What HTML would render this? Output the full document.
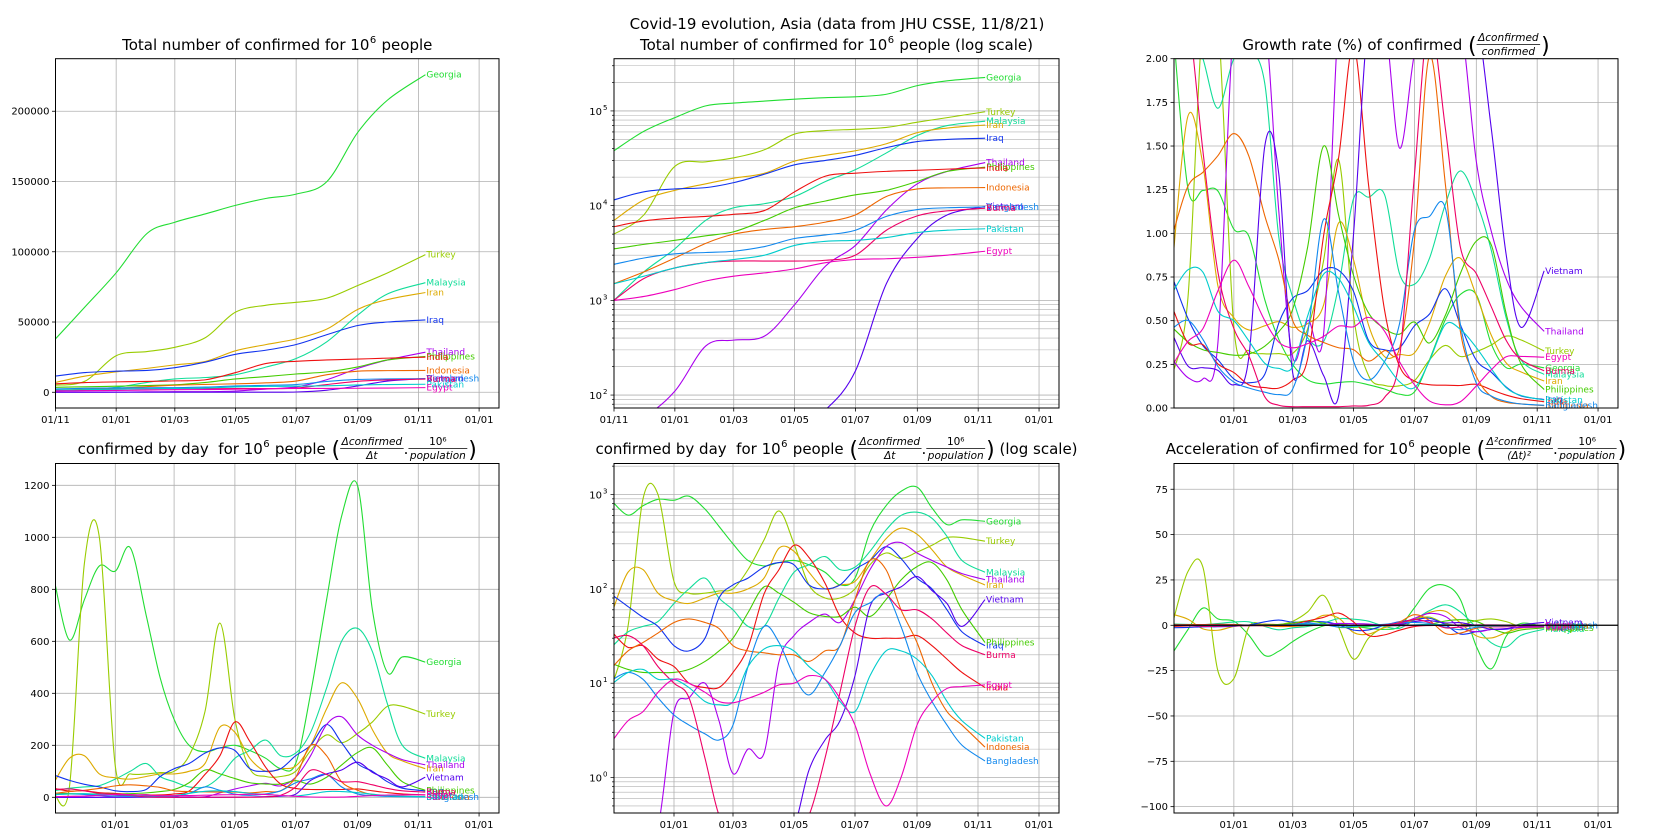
<!DOCTYPE html>
<html><head><meta charset="utf-8">
<style>
html,body{margin:0;padding:0;background:#fff;width:1675px;height:840px;overflow:hidden;}
svg{display:block;font-family:"DejaVu Sans","Liberation Sans",sans-serif;overflow:hidden;}
text{white-space:pre;}
</style></head>
<body>
<svg id="chart" width="1675" height="840" viewBox="0 0 1675 840" xmlns="http://www.w3.org/2000/svg">
<rect x="0" y="0" width="1675" height="840" fill="#fff"/>
<text x="837" y="29" font-size="15" text-anchor="middle" fill="#000">Covid-19 evolution, Asia (data from JHU CSSE, 11/8/21)</text>
</svg>
<script>
// ---------- data ----------
const countries = ["Georgia","Turkey","Malaysia","Iran","Iraq","Thailand","Philippines","India","Indonesia","Vietnam","Bangladesh","Burma","Pakistan","Egypt"];
const seriesColors = ["#22dd33","#99cc00","#11dd99","#ddaa00","#1133ee","#aa00ee","#44cc00","#ee1111","#ee6600","#5500ee","#1188ee","#ee0066","#00cccc","#ee00bb"];
const cumDays = [0,30,61,92,120,151,181,212,242,273,304,334,372];
const dayDays = [0,15,30,45,61,76,92,106,120,135,151,166,181,196,212,227,242,257,273,288,304,319,334,349,372];
const xTickDays = [0,61,120,181,242,304,365,426];
const xTickLabels = ["01/11","01/01","01/03","01/05","01/07","01/09","01/11","01/01"];

const cumGeorgia = [38000,61000,85000,113000,121000,127000,133000,138000,141000,150000,185000,208000,226000];
const cumTurkey = [5000,8000,26000,29000,32000,39000,57000,62000,64000,67000,76000,85000,98000];
const cumMalaysia = [1000,2000,3500,7000,9500,10500,12500,18000,24000,36000,55000,70000,78000];
const cumIran = [7000,11500,14500,17000,19500,22000,29500,34000,38000,45000,59000,66000,71000];
const cumIraq = [11500,14000,15000,15500,17500,21500,27000,30000,34000,41000,47500,50000,51500];
const cumThailand = [55,60,110,330,380,420,900,2300,3800,9000,17000,23000,28500];
const cumPhilippines = [3500,3900,4300,4800,5300,7000,9500,11200,13000,14500,18000,23000,25500];
const cumIndia = [6000,6900,7400,7700,8100,8900,14000,20500,22000,23000,23600,24300,25000];
const cumIndonesia = [1500,2000,2800,4000,5000,5600,6000,6700,8000,12500,15000,15400,15500];
const cumVietnam = [12,13,15,20,25,27,30,70,180,1500,4500,8000,9800];
const cumBangladesh = [2400,2800,3100,3200,3300,3700,4500,4900,5500,7700,9100,9500,9700];
const cumBurma = [1000,1700,2200,2500,2600,2600,2600,2650,3000,5500,7800,8800,9400];
const cumPakistan = [1500,1800,2200,2500,2700,3000,3800,4200,4300,4600,5200,5500,5700];
const cumEgypt = [1000,1100,1300,1600,1800,1950,2150,2500,2700,2750,2850,3000,3300];

const dailyGeorgia = [830,605,760,890,870,960,700,460,300,200,175,190,200,180,150,110,130,400,760,1080,1200,720,480,540,520];
const dailyTurkey = [10,40,900,1000,120,90,90,95,100,160,330,670,300,110,80,80,100,180,240,210,245,290,350,350,320];
const dailyMalaysia = [25,35,40,45,70,100,130,80,60,40,40,80,150,180,220,160,170,250,420,600,650,560,360,200,150];
const dailyIran = [60,150,160,90,75,70,80,90,90,100,130,270,250,150,100,110,120,200,340,440,380,260,170,140,110];
const dailyIraq = [85,65,50,40,25,22,30,80,110,130,170,190,180,110,100,110,160,200,280,210,130,100,60,35,25];
const dailyThailand = [0.15,0.1,0.1,0.3,5,7,10,4,1.1,2,1.8,17,32,44,54,44,77,160,280,310,240,200,170,145,125];
const dailyPhilippines = [16,14,13,13,13,14,17,22,30,56,105,90,72,56,51,51,64,51,77,124,172,190,124,60,27];
const dailyIndia = [34,24,25,18,15,10,9,9,13,24,88,160,290,215,115,51,34,30,30,30,32,25,18,13,9];
const dailyIndonesia = [15,22,27,34,44,48,44,38,25,22,21,20,20,17,22,25,77,200,160,60,27,10,5,3.6,2.1];
const dailyVietnam = [0.05,0.03,0.03,0.03,0.02,0.05,0.3,0.3,0.05,0.1,0.05,0.02,0.3,1.2,2.5,4,12,65,90,105,135,96,70,40,77];
const dailyBangladesh = [11,13,11,7,4.6,3.6,2.9,2.5,3.6,15,40,27,12,7.5,13,25,56,71,88,40,13,6.4,3.6,2.2,1.5];
const dailyBurma = [30,32,25,15,10,7,1.6,0.4,0.2,0.2,0.2,0.2,0.3,0.4,1.6,8,40,104,88,60,60,48,34,25,20];
const dailyPakistan = [10,13,14,11,11,9,6.4,5.9,6.4,15,23,25,22,15,11,6.4,5,12,22,22,18,12,6.4,4,2.6];
const dailyEgypt = [2.5,4,5,8,11,10,8,6.4,6.2,6.9,8,9.6,10,12,11,6.9,3.6,1.1,0.5,1,3.6,6.4,8.8,9.2,9.6];

const cumSeries = [cumGeorgia,cumTurkey,cumMalaysia,cumIran,cumIraq,cumThailand,cumPhilippines,cumIndia,cumIndonesia,cumVietnam,cumBangladesh,cumBurma,cumPakistan,cumEgypt];
const dailySeries = [dailyGeorgia,dailyTurkey,dailyMalaysia,dailyIran,dailyIraq,dailyThailand,dailyPhilippines,dailyIndia,dailyIndonesia,dailyVietnam,dailyBangladesh,dailyBurma,dailyPakistan,dailyEgypt];

const linTicks1 = [0,50000,100000,150000,200000];
const growthTicks = [0,0.25,0.5,0.75,1,1.25,1.5,1.75,2];
const linTicks4 = [0,200,400,600,800,1000,1200];
const accTicks = [-100,-75,-50,-25,0,25,50,75];

// ---------- helpers ----------
const NS = "http://www.w3.org/2000/svg";
const svg = document.getElementById("chart");
function el(tag, attrs, parent){
  const e = document.createElementNS(NS, tag);
  for (const k in attrs) e.setAttribute(k, attrs[k]);
  (parent || svg).appendChild(e);
  return e;
}
let clipId = 0;
function makePanel(name, box, xmin, xmax, ymin, ymax, log, showFirstTick){
  const g = el("g", {});
  
  
  const f = v => log ? Math.log10(v) : v;
  const lo = f(ymin), hi = f(ymax);
  const sx = d => box.x0 + (d - xmin) / (xmax - xmin) * (box.x1 - box.x0);
  const sy = v => box.y1 - (f(v) - lo) / (hi - lo) * (box.y1 - box.y0);
  const id = "clip" + (clipId++);
  const cp = el("clipPath", {id: id}, g);
  el("rect", {x: box.x0, y: box.y0, width: box.x1 - box.x0, height: box.y1 - box.y0}, cp);
  const grid = el("g", {}, g);
  
  
  xTickDays.forEach((d, i) => {
    if (i === 0 && !showFirstTick) return;
    const x = sx(d);
    if (x < box.x0 - 0.5 || x > box.x1 + 0.5) return;
    el("line", {x1: x, x2: x, y1: box.y0, y2: box.y1, stroke: "#b0b0b0", "stroke-width": 0.8}, grid);
    el("line", {x1: x, x2: x, y1: box.y1, y2: box.y1 + 3.5, stroke: "#000", "stroke-width": 0.8}, g);
    const t = el("text", {x: x, y: box.y1 + 15, "font-size": 10, "text-anchor": "middle", fill: "#000"}, g);
    t.textContent = xTickLabels[i];
    
    
  });
  return {g, sx, sy, box, id, grid};
}
function yTicksLinear(p, ticks, fmt){
  ticks.forEach(v => {
    const y = p.sy(v);
    el("line", {x1: p.box.x0, x2: p.box.x1, y1: y, y2: y, stroke: "#b0b0b0", "stroke-width": 0.8}, p.grid);
    el("line", {x1: p.box.x0 - 3.5, x2: p.box.x0, y1: y, y2: y, stroke: "#000", "stroke-width": 0.8}, p.g);
    const t = el("text", {x: p.box.x0 - 6, y: y + 3.5, "font-size": 10, "text-anchor": "end", fill: "#000"}, p.g);
    t.textContent = fmt(v);
    
    
  });
}
function yTicksLog(p, e0, e1, ymin, ymax){
  for (let e = e0; e <= e1; e++){
    for (let m = 1; m <= 9; m++){
      const v = m * Math.pow(10, e);
      if (v < ymin || v > ymax) continue;
      const y = p.sy(v);
      el("line", {x1: p.box.x0, x2: p.box.x1, y1: y, y2: y, stroke: "#b0b0b0", "stroke-width": m === 1 ? 0.8 : 0.6}, p.grid);
      el("line", {x1: p.box.x0 - (m === 1 ? 3.5 : 2), x2: p.box.x0, y1: y, y2: y, stroke: "#000", "stroke-width": 0.7}, p.g);
      if (m === 1){
        const t = el("text", {x: p.box.x0 - 12, y: y + 4, "font-size": 10, "text-anchor": "end", fill: "#000"}, p.g);
        t.textContent = "10";
        
        
        const s = el("text", {x: p.box.x0 - 11, y: y - 1, "font-size": 7, "text-anchor": "start", fill: "#000"}, p.g);
        s.textContent = String(e);
      }
    }
  }
}
function frame(p){
  el("rect", {x: p.box.x0, y: p.box.y0, width: p.box.x1 - p.box.x0, height: p.box.y1 - p.box.y0, fill: "none", stroke: "#000", "stroke-width": 1}, p.g);
}
function smoothPath(pts, lo, hi){
  if (pts.length < 2) return "";
  const c = v => Math.max(lo, Math.min(hi, v));
  let d = "M" + pts[0][0].toFixed(2) + "," + pts[0][1].toFixed(2);
  for (let i = 0; i < pts.length - 1; i++){
    const p0 = pts[Math.max(0, i - 1)], p1 = pts[i], p2 = pts[i + 1], p3 = pts[Math.min(pts.length - 1, i + 2)];
    const c1x = p1[0] + (p2[0] - p0[0]) / 6, c1y = c(p1[1] + (p2[1] - p0[1]) / 6);
    const c2x = p2[0] - (p3[0] - p1[0]) / 6, c2y = c(p2[1] - (p3[1] - p1[1]) / 6);
    d += " C" + c1x.toFixed(2) + "," + c1y.toFixed(2) + " " + c2x.toFixed(2) + "," + c2y.toFixed(2) + " " + p2[0].toFixed(2) + "," + p2[1].toFixed(2);
  }
  return d;
}
function drawSeries(p, days, values, ci){
  const lines = el("g", {"clip-path": "url(#" + p.id + ")"}, p.g);
  const lo = Math.max(0, p.box.y0 - 40), hi = Math.min(838, p.box.y1 + 20);
  const pts = days.map((d, i) => [p.sx(d), Math.max(lo, Math.min(hi, p.sy(values[i])))]);
  const path = el("path", {d: smoothPath(pts, lo, hi), fill: "none", stroke: seriesColors[ci], "stroke-width": 1.1}, lines);
  
  
  const last = pts[pts.length - 1];
  if (last[1] >= p.box.y0 && last[1] <= p.box.y1){
    const t = el("text", {x: last[0] + 1, y: last[1] + 3, "font-size": 9, fill: seriesColors[ci]}, p.g);
    t.textContent = countries[ci];
    
    
  }
}
function cumAt(ci, d){
  const a = cumSeries[ci];
  for (let i = 0; i < cumDays.length - 1; i++){
    if (d <= cumDays[i + 1]){
      const t = (d - cumDays[i]) / (cumDays[i + 1] - cumDays[i]);
      return Math.pow(10, Math.log10(a[i]) * (1 - t) + Math.log10(a[i + 1]) * t);
    }
  }
  return a[a.length - 1];
}
function richTitle(name, cx, base, pieces){
  const g = el("g", {});
  
  
  let x = 0;
  pieces.forEach(pc => {
    if (typeof pc === "string"){
      const t = el("text", {x: x, y: base, "font-size": 15, fill: "#000"}, g);
      t.textContent = pc.replace(/ /g, "\u00a0");
      x += t.getComputedTextLength();
    } else if (pc.sup){
      const t = el("text", {x: x + 0.5, y: base - 7, "font-size": 10, fill: "#000"}, g);
      t.textContent = pc.sup;
      x += t.getComputedTextLength() + 1;
    } else if (pc.paren){
      const t = el("text", {x: x + 1, y: base + 3, "font-size": 22, fill: "#000"}, g);
      t.textContent = pc.paren;
      x += t.getComputedTextLength() + 1;
    } else if (pc.frac){
      const n = el("text", {x: x, y: base - 9, "font-size": 10.5, "font-style": pc.upNum ? "normal" : "italic", fill: "#000", "text-anchor": "middle"}, g);
      n.textContent = pc.frac[0];
      const dn = el("text", {x: x, y: base + 5, "font-size": 10.5, "font-style": "italic", fill: "#000", "text-anchor": "middle"}, g);
      dn.textContent = pc.frac[1];
      const w = Math.max(n.getComputedTextLength(), dn.getComputedTextLength()) + 3;
      n.setAttribute("x", x + w / 2); dn.setAttribute("x", x + w / 2);
      el("line", {x1: x, x2: x + w, y1: base - 5.5, y2: base - 5.5, stroke: "#000", "stroke-width": 0.8}, g);
      x += w;
    }
  });
  g.setAttribute("transform", "translate(" + (cx - x / 2) + ",0)");
}

// ---------- geometry ----------
const topY = {y0: 58.7, y1: 408};
const botY = {y0: 463.5, y1: 813};
const colX = [{x0: 55.5, x1: 499}, {x0: 614, x1: 1059}, {x0: 1174, x1: 1618}];
const XMAX = 446;

const p1 = makePanel("panel-total-linear", {...colX[0], ...topY}, 0, XMAX, -11200, 237400, false, true);
yTicksLinear(p1, linTicks1, v => String(v));
cumSeries.forEach((s, ci) => drawSeries(p1, cumDays, s, ci));
frame(p1);
richTitle("title-total-linear", (colX[0].x0 + colX[0].x1) / 2, 50, ["Total number of confirmed for 10", {sup: "6"}, " people"]);

const p2 = makePanel("panel-total-log", {...colX[1], ...topY}, 0, XMAX, 73, 356000, true, true);
yTicksLog(p2, 1, 5, 73, 356000);
cumSeries.forEach((s, ci) => drawSeries(p2, cumDays, s, ci));
frame(p2);
richTitle("title-total-log", (colX[1].x0 + colX[1].x1) / 2, 50, ["Total number of confirmed for 10", {sup: "6"}, " people (log scale)"]);

const p3 = makePanel("panel-growth-rate", {...colX[2], ...topY}, 1, XMAX, 0, 2, false, false);
yTicksLinear(p3, growthTicks, v => v.toFixed(2));
dailySeries.forEach((s, ci) => {
  const g = s.map((v, i) => v / cumAt(ci, dayDays[i]) * 100);
  drawSeries(p3, dayDays, g, ci);
});
frame(p3);
richTitle("title-growth-rate", (colX[2].x0 + colX[2].x1) / 2, 50, ["Growth rate (%) of confirmed ", {paren: "("}, {frac: ["Δconfirmed", "confirmed"]}, {paren: ")"}]);

const p4 = makePanel("panel-daily-linear", {...colX[0], ...botY}, 1, XMAX, -60.4, 1284, false, false);
yTicksLinear(p4, linTicks4, v => String(v));
dailySeries.forEach((s, ci) => drawSeries(p4, dayDays, s, ci));
frame(p4);
richTitle("title-daily-linear", (colX[0].x0 + colX[0].x1) / 2, 454, ["confirmed by day  for 10", {sup: "6"}, " people ", {paren: "("}, {frac: ["Δconfirmed", "Δt"]}, ".", {frac: ["10⁶", "population"], upNum: true}, {paren: ")"}]);

const p5 = makePanel("panel-daily-log", {...colX[1], ...botY}, 1, XMAX, Math.pow(10, -0.376), Math.pow(10, 3.329), true, false);
yTicksLog(p5, -1, 3, Math.pow(10, -0.376), Math.pow(10, 3.329));
dailySeries.forEach((s, ci) => drawSeries(p5, dayDays, s, ci));
frame(p5);
richTitle("title-daily-log", (colX[1].x0 + colX[1].x1) / 2, 454, ["confirmed by day  for 10", {sup: "6"}, " people ", {paren: "("}, {frac: ["Δconfirmed", "Δt"]}, ".", {frac: ["10⁶", "population"], upNum: true}, {paren: ")"}, " (log scale)"]);

const p6 = makePanel("panel-acceleration", {...colX[2], ...botY}, 1, XMAX, -103.5, 89.2, false, false);
yTicksLinear(p6, accTicks, v => v < 0 ? "\u2212" + Math.abs(v) : String(v));
dailySeries.forEach((s, ci) => {
  const acc = s.map((v, i) => {
    const a = Math.max(0, i - 1), b = Math.min(s.length - 1, i + 1);
    return (s[b] - s[a]) / (dayDays[b] - dayDays[a]);
  });
  drawSeries(p6, dayDays, acc, ci);
});
const zl = el("line", {x1: p6.box.x0, x2: p6.box.x1, y1: p6.sy(0), y2: p6.sy(0), stroke: "#000", "stroke-width": 1.2}, p6.g);


frame(p6);
richTitle("title-acceleration", (colX[2].x0 + colX[2].x1) / 2, 454, ["Acceleration of confirmed for 10", {sup: "6"}, " people ", {paren: "("}, {frac: ["Δ²confirmed", "(Δt)²"]}, ".", {frac: ["10⁶", "population"], upNum: true}, {paren: ")"}]);
</script>
</body></html>
